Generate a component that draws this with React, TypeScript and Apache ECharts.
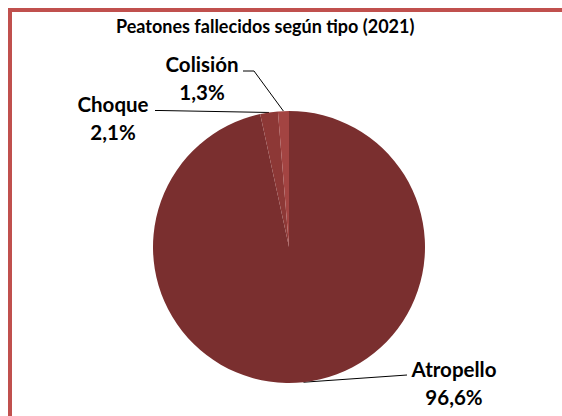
import React, { useEffect, useRef } from "react";
import * as echarts from "echarts";

const titleText = "Peatones fallecidos según tipo (2021)";
const categories = ["Atropello", "Choque", "Colisión"];
const values = [96.6, 2.1, 1.3];
const colors = ["#7a2f2f", "#8d3836", "#a34442"];

// label block centres and leader-line bends (layout only)
const labelSpots = [
  { x: 454, y: 383, bend: [[400, 375.5], [407, 375]] },
  { x: 113, y: 118, bend: [[160, 110.5], [155, 110.5]] },
  { x: 202, y: 78, bend: [[254, 71], [243, 71]] },
];

const FONT = "Lato, 'Open Sans', sans-serif";

export default function App() {
  const ref = useRef<HTMLDivElement>(null);

  useEffect(() => {
    document.documentElement.style.overflow = "hidden";
    document.body.style.overflow = "hidden";
    if (!ref.current) return;
    const chart = echarts.init(ref.current, null, { renderer: "svg" });
    chart.setOption({
      animation: false,
      backgroundColor: "transparent",
      title: {
        text: titleText,
        left: 111,
        top: 11,
        textStyle: {
          fontFamily: FONT,
          fontWeight: "bold",
          fontSize: 18,
          lineHeight: 20,
          color: "#000",
        },
      },
      series: [
        {
          type: "pie",
          center: [289, 247],
          radius: 136,
          startAngle: 90,
          clockwise: true,
          silent: true,
          data: categories.map((name, i) => ({
            name,
            value: values[i],
            itemStyle: { color: colors[i] },
          })),
          itemStyle: { borderWidth: 0 },
          emphasis: { disabled: true },
          label: {
            show: true,
            position: "outside",
            fontFamily: FONT,
            fontWeight: "bold",
            fontSize: 20.5,
            color: "#000",
            lineHeight: 28,
            align: "center",
            formatter: (p: any) =>
              p.name + "\n" + Number(p.value).toFixed(1).replace(".", ",") + "%",
          },
          labelLine: {
            show: true,
            lineStyle: { color: "#000", width: 1 },
          },
          labelLayout: (p: any) => {
            const s = labelSpots[p.dataIndex];
            const anchor = p.labelLinePoints ? p.labelLinePoints[0] : s.bend[0];
            return {
              x: s.x,
              y: s.y,
              align: "center",
              verticalAlign: "middle",
              labelLinePoints: [anchor, s.bend[0], s.bend[1]],
            };
          },
        },
      ],
    });
    return () => chart.dispose();
  }, []);

  return (
    <div
      style={{
        position: "fixed",
        left: 0,
        top: 0,
        width: 562,
        height: 416,
        overflow: "hidden",
        background: "#fff",
      }}
    >
      <div
        style={{
          position: "absolute",
          left: 8,
          top: 8,
          width: 620,
          height: 480,
          border: "4px solid #c0504d",
          boxSizing: "border-box",
        }}
      />
      <div
        ref={ref}
        style={{ position: "absolute", left: 0, top: 0, width: 562, height: 416 }}
      />
    </div>
  );
}
